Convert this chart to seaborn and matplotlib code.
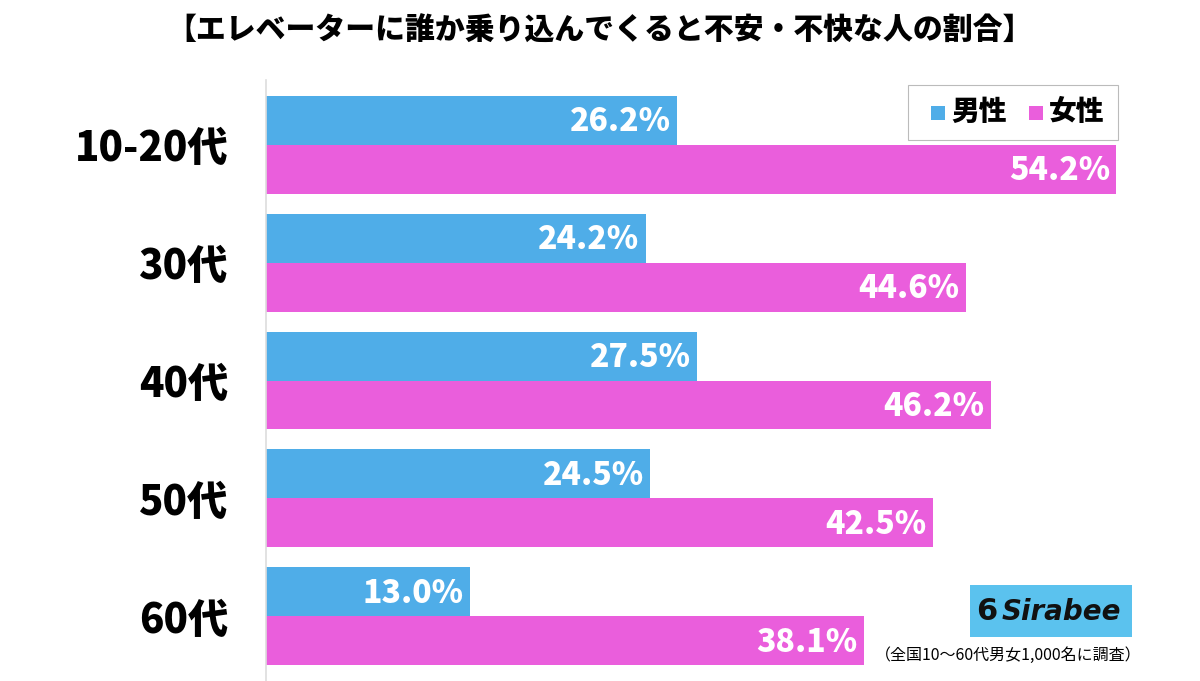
import pandas as pd
import matplotlib.pyplot as plt
import seaborn as sns
from matplotlib.patches import Rectangle

# データ
ages = ['10-20代', '30代', '40代', '50代', '60代']
male = [26.2, 24.2, 27.5, 24.5, 13.0]
female = [54.2, 44.6, 46.2, 42.5, 38.1]
series = ['男性', '女性']
colors = ['#4FADE8', '#EA5EDC']

df = pd.DataFrame({'age': ages * 2,
                   'sex': [series[0]] * len(ages) + [series[1]] * len(ages),
                   'value': male + female})

sns.set_style('white')
plt.rcParams['font.family'] = ['Noto Sans CJK JP', 'DejaVu Sans']
plt.rcParams['text.color'] = 'black'
plt.rcParams['ytick.color'] = 'black'

fig = plt.figure(figsize=(12, 6.81), dpi=100)
ax = fig.add_axes([266 / 1200, 0, (1190 - 266) / 1200, 1 - 80 / 681])

sns.barplot(data=df, y='age', x='value', hue='sex', palette=colors,
            orient='h', width=0.83, saturation=1, linewidth=0,
            ax=ax, legend=False)

ax.set_xlim(0, 58.9)
ax.set_ylim(4.55, -0.55)
ax.set_xlabel('')
ax.set_ylabel('')
ax.set_xticks([])
for s in ['top', 'right', 'bottom']:
    ax.spines[s].set_visible(False)
ax.spines['left'].set_color('#dddddd')
ax.spines['left'].set_linewidth(1.2)
ax.tick_params(axis='y', length=0, pad=27, labelcolor='black')
for lab in ax.get_yticklabels():
    lab.set_fontsize(29)
    lab.set_fontweight('black')

# 値ラベル
for cont in ax.containers:
    for bar in cont:
        w = bar.get_width()
        ax.text(w - 0.4, bar.get_y() + bar.get_height() / 2 + 0.01,
                f'{w:.1f}%', ha='right', va='center', color='white',
                fontsize=23, fontweight='black')

# タイトル
fig.text(0.5, 1 - 30 / 681, '【エレベーターに誰か乗り込んでくると不安・不快な人の割合】',
         ha='center', va='center', fontsize=21.5, fontweight='black')

# 凡例
fig.patches.append(Rectangle((908 / 1200, 1 - 140 / 681), 210 / 1200, 55 / 681,
                             transform=fig.transFigure, facecolor='white',
                             edgecolor='#bbbbbb', linewidth=0.8, zorder=5))
for i, (name, c) in enumerate(zip(series, colors)):
    x0 = 931 + i * 98
    fig.patches.append(Rectangle((x0 / 1200, 1 - 120 / 681), 14 / 1200, 14 / 681,
                                 transform=fig.transFigure, facecolor=c,
                                 edgecolor='none', zorder=6))
    fig.text((x0 + 20) / 1200, 1 - 112 / 681, name, ha='left', va='center',
             fontsize=20, fontweight='black', zorder=7)

# ロゴ
fig.patches.append(Rectangle((970 / 1200, 1 - 637 / 681), 162 / 1200, 52 / 681,
                             transform=fig.transFigure, facecolor='#5BC2EE',
                             edgecolor='none', zorder=5))
fig.text(1002 / 1200, 1 - 612 / 681, 'Sirabee', ha='left', va='center',
         fontsize=20, fontweight='bold', style='italic', family='DejaVu Sans',
         color='#111111', zorder=6)
fig.text(987 / 1200, 1 - 611 / 681, '6', ha='center', va='center',
         fontsize=22, fontweight='bold', family='DejaVu Sans',
         color='#111111', zorder=6)

fig.text(1142 / 1200, 1 - 655 / 681, '（全国10〜60代男女1,000名に調査）',
         ha='right', va='center', fontsize=11.5)

fig.savefig('out.png', dpi=100)
